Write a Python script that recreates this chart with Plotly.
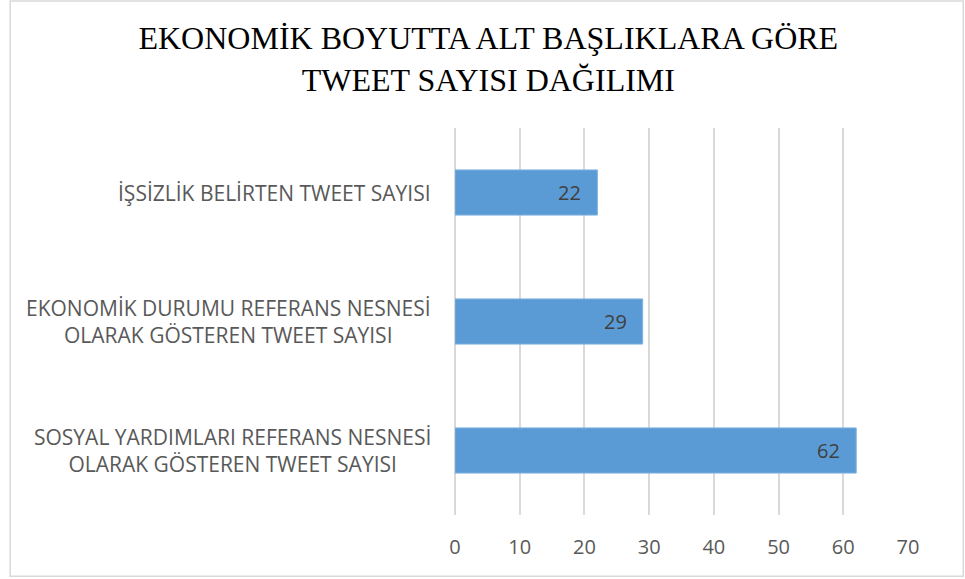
import plotly.graph_objects as go

categories = [
    "İŞSİZLİK BELİRTEN TWEET SAYISI",
    "EKONOMİK DURUMU REFERANS NESNESİ<br>OLARAK GÖSTEREN TWEET SAYISI",
    "SOSYAL YARDIMLARI REFERANS NESNESİ<br>OLARAK GÖSTEREN TWEET SAYISI",
]
values = [22, 29, 62]
x_ticks = [0, 10, 20, 30, 40, 50, 60, 70]

TITLE = "EKONOMİK BOYUTTA ALT BAŞLIKLARA GÖRE<br>TWEET SAYISI DAĞILIMI"
BAR_COLOR = "#5B9BD5"
GRID_COLOR = "#D9D9D9"
TEXT_COLOR = "#595959"
LABEL_FONT = "Open Sans, Liberation Sans, sans-serif"

fig = go.Figure()
fig.add_trace(go.Bar(
    x=values, y=categories,
    orientation="h",
    width=0.35,
    marker=dict(color=BAR_COLOR, line=dict(color="#7FB2E0", width=1)),
    hoverinfo="x+y",
    showlegend=False,
))

# value labels, inside end of each bar
for cat, val in zip(categories, values):
    fig.add_annotation(
        x=val, y=cat, xref="x", yref="y",
        text=str(val), showarrow=False,
        xanchor="right", xshift=-14,
        font=dict(family=LABEL_FONT, size=20, color="#404040"),
    )

# category labels (centered lines like Excel)
for cat in categories:
    fig.add_annotation(
        x=0, y=cat, xref="paper", yref="y",
        text=cat, showarrow=False,
        xanchor="right", xshift=-22, align="center",
        font=dict(family=LABEL_FONT, size=21, color=TEXT_COLOR),
    )

# chart border
fig.add_shape(
    type="rect", xref="paper", yref="paper",
    x0=-0.982, x1=1.122, y0=-0.158, y1=1.328,
    line=dict(color=GRID_COLOR, width=1.5),
    fillcolor="rgba(0,0,0,0)", layer="below",
)

fig.update_layout(
    width=965, height=579,
    margin=dict(l=455, r=57, t=128, b=64),
    paper_bgcolor="white", plot_bgcolor="white",
    title=dict(
        text=TITLE, x=0.506, xanchor="center", y=0.915, yanchor="top",
        font=dict(family="Liberation Serif, Times New Roman, serif", size=32, color="black"),
    ),
    bargap=0.65,
)
fig.update_xaxes(
    range=[0, 70], tickvals=x_ticks,
    showgrid=True, gridcolor=GRID_COLOR, gridwidth=1.5,
    zeroline=True, zerolinecolor=GRID_COLOR, zerolinewidth=1.5,
    showline=False, ticks="",
    ticklabelstandoff=18,
    tickfont=dict(family=LABEL_FONT, size=20, color=TEXT_COLOR),
    fixedrange=True,
)
fig.update_yaxes(
    autorange="reversed", showticklabels=False,
    showgrid=False, showline=False, ticks="",
    fixedrange=True,
)

# drop the default 8px body margin so the figure sits at the window corner
fig.write_html(
    "out.html",
    config={"displayModeBar": False},
    post_script="document.body.style.margin = '0';",
)
